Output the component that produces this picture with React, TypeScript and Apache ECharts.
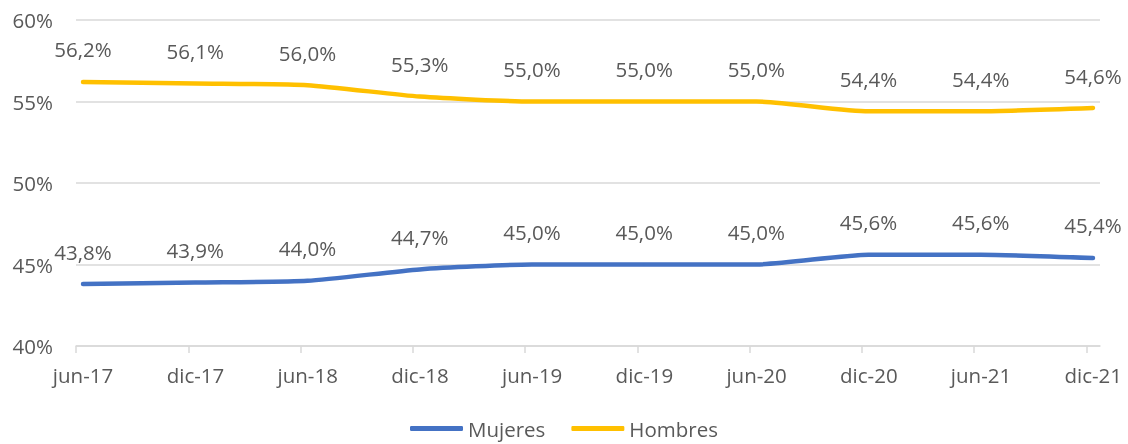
import React, { useEffect, useRef } from "react";
import * as echarts from "echarts";

const categories = ["jun-17", "dic-17", "jun-18", "dic-18", "jun-19", "dic-19", "jun-20", "dic-20", "jun-21", "dic-21"];
const mujeres = [43.8, 43.9, 44.0, 44.7, 45.0, 45.0, 45.0, 45.6, 45.6, 45.4];
const hombres = [56.2, 56.1, 56.0, 55.3, 55.0, 55.0, 55.0, 54.4, 54.4, 54.6];
const yTicks = [40, 45, 50, 55, 60];

const FONT = "'Open Sans', 'Noto Sans', sans-serif";
const TEXT = "#595959";
const GRID = "#d9d9d9";
const OFF = 0.0625;
const FS = 20.5;

const fmt = (v: number) => v.toFixed(1).replace(".", ",") + "%";

export default function App() {
  const ref = useRef<HTMLDivElement>(null);
  useEffect(() => {
    if (!ref.current) return;
    const chart = echarts.init(ref.current, undefined, { renderer: "svg" });
    const mk = (name: string, vals: number[], color: string) => ({
      name,
      type: "line",
      data: vals.map((v, i) => [i, v]),
      smooth: 0.2,
      showSymbol: true,
      symbol: "circle",
      symbolSize: 2,
      lineStyle: { color, width: 4.5, cap: "round", join: "round" },
      itemStyle: { color },
      label: {
        show: true,
        position: "top",
        distance: 21,
        formatter: (p: any) => fmt(p.value[1]),
        color: TEXT,
        fontFamily: FONT,
        fontSize: FS,
      },
      labelLayout: { hideOverlap: false },
    });
    chart.setOption({
      animation: false,
      grid: { left: 76, right: 28, top: 20, bottom: 98, containLabel: false },
      xAxis: {
        type: "value",
        min: -OFF,
        max: categories.length - 1 + OFF,
        interval: 1,
        axisLine: { show: true, lineStyle: { color: GRID, width: 1.5 } },
        axisTick: { show: true, length: 7, lineStyle: { color: GRID, width: 1.5 } },
        splitLine: { show: false },
        axisLabel: {
          color: TEXT,
          fontFamily: FONT,
          fontSize: FS,
          margin: 18,
          padding: [0, 0, 0, 14],
          showMinLabel: true,
          showMaxLabel: false,
          formatter: (v: number) => categories[Math.round(v + OFF)] ?? "",
        },
      },
      yAxis: {
        type: "value",
        min: yTicks[0],
        max: yTicks[yTicks.length - 1],
        interval: 5,
        axisLine: { show: false },
        axisTick: { show: false },
        splitLine: { lineStyle: { color: GRID, width: 1.5 } },
        axisLabel: {
          color: TEXT,
          fontFamily: FONT,
          fontSize: FS,
          margin: 23,
          formatter: (v: number) => v + "%",
        },
      },
      legend: {
        top: 418,
        left: "center",
        icon: "roundRect",
        itemWidth: 53,
        itemHeight: 5,
        itemGap: 26,
        padding: 0,
        textStyle: { color: TEXT, fontFamily: FONT, fontSize: FS },
        data: ["Mujeres", "Hombres"],
      },
      series: [mk("Mujeres", mujeres, "#4472C4"), mk("Hombres", hombres, "#FFC000")],
    });
    return () => chart.dispose();
  }, []);
  return (
    <div
      ref={ref}
      style={{ position: "fixed", left: 0, top: 0, width: 1128, height: 444 }}
    />
  );
}
